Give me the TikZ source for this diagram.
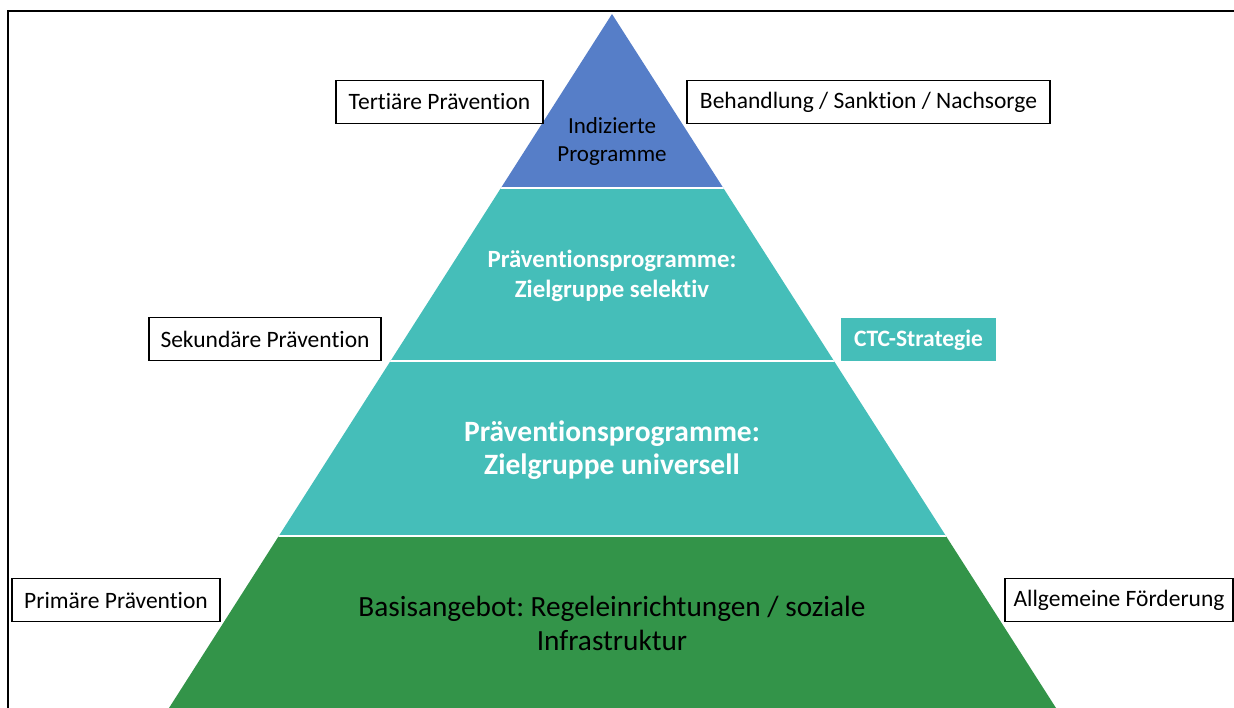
\documentclass[tikz,border=0pt]{standalone}
\usepackage{fontspec}
\setmainfont{Carlito}[Ligatures=NoCommon]
\frenchspacing
\usetikzlibrary{positioning}
\definecolor{tipblue}{RGB}{86,126,200}
\definecolor{midteal}{RGB}{69,190,185}
\definecolor{basegreen}{RGB}{51,148,73}
\begin{document}
\begin{tikzpicture}[x=1pt, y=-1pt,
  sidebox/.style={draw, line width=1.1pt, fill=white, minimum height=43pt,
    inner xsep=0pt, font=\fontsize{23.5}{28}\selectfont}]
\useasboundingbox (0,0) rectangle (1234,708);
\draw[line width=2pt] (8,708) -- (8,11) -- (1234,11);

% the pyramid, cut into its layers
\begin{scope}
  \clip (612,14) -- (1056,708) -- (169,708) -- cycle;
  \fill[tipblue] (0,0) rectangle (1234,188);
  \fill[midteal] (0,188) rectangle (1234,536);
  \fill[basegreen] (0,536) rectangle (1234,708);
  \draw[white, line width=2pt] (0,188) -- (1234,188);
  \draw[white, line width=2pt] (0,361) -- (1234,361);
  \draw[white, line width=2pt] (0,536) -- (1234,536);
\end{scope}

\node[align=center, font=\fontsize{23}{28}\selectfont] (indiziert) at (612,141)
  {Indizierte\\Programme};
\node[align=center, white, font=\fontsize{24.8}{30}\selectfont\bfseries] (selektiv)
  at (612,276) {Präventionsprogramme:\\Zielgruppe selektiv};
\node[align=center, white, font=\fontsize{29.5}{33}\selectfont\bfseries] (universell)
  at (612,450) {Präventionsprogramme:\\Zielgruppe universell};
\node[align=center, font=\fontsize{29.3}{34}\selectfont] (basis) at (612,623)
  {Basisangebot: Regeleinrichtungen / soziale\\Infrastruktur};

% boxes beside the pyramid
\node[sidebox, minimum width=207pt] (tertiaer) at (439.5,102) {Tertiäre Prävention};
\node[sidebox, minimum width=363pt] (behandlung) at (868.5,102) {Behandlung / Sanktion / Nachsorge};
\node[sidebox, minimum width=232pt] (sekundaer) at (265,339) {Sekundäre Prävention};
\node[sidebox, minimum width=155pt, draw=none, fill=midteal, text=white,
  font=\fontsize{23.5}{28}\selectfont\bfseries] (ctc) at (918.5,340) {CTC-Strategie};
\node[sidebox, minimum width=208pt] (primaer) at (116,600) {Primäre Prävention};
\node[sidebox, minimum width=228pt] (allgemein) at (1119,600) {Allgemeine Förderung};
\end{tikzpicture}
\end{document}
